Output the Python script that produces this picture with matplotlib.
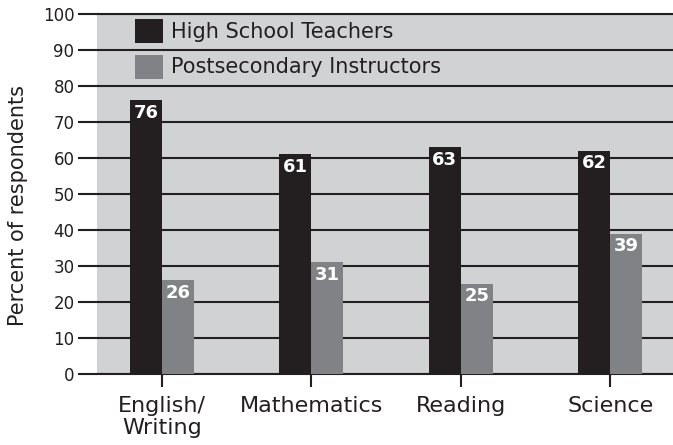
import matplotlib.pyplot as plt
import numpy as np

# survey results, percent of respondents
subjects = ["English/\nWriting", "Mathematics", "Reading", "Science"]
high_school = [76, 61, 63, 62]
postsecondary = [26, 31, 25, 39]
series_names = ["High School Teachers", "Postsecondary Instructors"]
yticks = [0, 10, 20, 30, 40, 50, 60, 70, 80, 90, 100]

dark = "#231f20"
mid = "#808285"
bg = "#d1d2d4"

plt.rcParams["font.family"] = "DejaVu Sans"

fig = plt.figure(figsize=(6.73, 4.45), dpi=100)
ax = fig.add_axes([97 / 673, 71 / 445, 576 / 673, 360 / 445])
ax.set_facecolor(bg)

x = np.arange(len(subjects))
w = 0.214
b1 = ax.bar(x - w / 2, high_school, w, color=dark, label=series_names[0], zorder=3)
b2 = ax.bar(x + w / 2, postsecondary, w, color=mid, label=series_names[1], zorder=3)

# white value labels inside the top of each bar
for bars, vals in [(b1, high_school), (b2, postsecondary)]:
    for rect, v in zip(bars, vals):
        ax.annotate(str(v), (rect.get_x() + rect.get_width() / 2, v),
                    xytext=(0, -2.5), textcoords="offset points",
                    ha="center", va="top", color="white",
                    fontsize=13, fontweight="bold", zorder=4)

ax.set_xlim(-0.435, 3.42)
ax.set_ylim(0, 100)
ax.set_yticks(yticks)
ax.set_xticks(x)
ax.set_xticklabels(subjects, fontsize=16, color=dark, linespacing=1.1)
ax.tick_params(axis="y", length=13.7, width=1.5, color=dark, pad=2.5,
               labelsize=12, labelcolor=dark)
ax.tick_params(axis="x", length=9, width=1.5, color=dark, pad=7)

ax.grid(axis="y", color=dark, linewidth=1.5)
ax.set_axisbelow(True)
for s in ["left", "right"]:
    ax.spines[s].set_visible(False)
for s in ["top", "bottom"]:
    ax.spines[s].set_color(dark)
    ax.spines[s].set_linewidth(1.5)

ax.set_ylabel("Percent of respondents", fontsize=15, color=dark)
ax.yaxis.set_label_coords(-69 / 576, 0.467)

ax.legend(loc="upper left", bbox_to_anchor=(38 / 576, 1 - 5 / 360),
          frameon=False, fontsize=15, handlelength=1.35, handleheight=1.4,
          handletextpad=0.38, labelspacing=0.55, borderpad=0, borderaxespad=0,
          labelcolor=dark)

fig.savefig("out.png", dpi=100)
